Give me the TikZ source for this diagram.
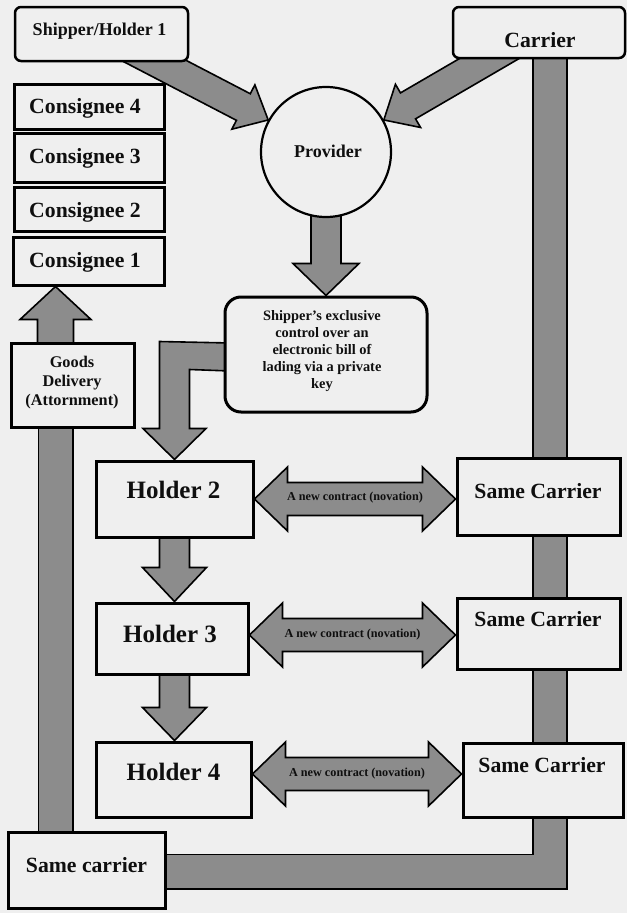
\documentclass[tikz,border=0pt]{standalone}
\usepackage{fontspec}
\setmainfont{Liberation Serif}
\usetikzlibrary{calc}
\pgfdeclarelayer{bglayer}
\pgfdeclarelayer{arrowlayer}
\pgfsetlayers{bglayer,arrowlayer,main}
\definecolor{bgc}{RGB}{239,239,239}
\definecolor{arrgray}{RGB}{140,140,140}
\definecolor{txt}{RGB}{15,15,15}
% fat single arrow: start, tip, half shaft, half head, head length
\newcommand{\fatarrow}[5]{%
  \coordinate (fah) at ($(#2)!#5!(#1)$);
  \filldraw[arr] ($(#1)!#3!90:(#2)$) -- ($(fah)!#3!90:(#2)$) -- ($(fah)!#4!90:(#2)$) -- (#2)
    -- ($(fah)!#4!-90:(#2)$) -- ($(fah)!#3!-90:(#2)$) -- ($(#1)!#3!-90:(#2)$) -- cycle;}
% fat double arrow: tip A, tip B, half shaft, half head, head length
\newcommand{\fatdarrow}[5]{%
  \coordinate (fda) at ($(#1)!#5!(#2)$);
  \coordinate (fdb) at ($(#2)!#5!(#1)$);
  \filldraw[arr] (#1) -- ($(fda)!#4!90:(#2)$) -- ($(fda)!#3!90:(#2)$) -- ($(fdb)!#3!-90:(#1)$)
    -- ($(fdb)!#4!-90:(#1)$) -- (#2) -- ($(fdb)!#4!90:(#1)$) -- ($(fdb)!#3!90:(#1)$)
    -- ($(fda)!#3!-90:(#2)$) -- ($(fda)!#4!-90:(#2)$) -- cycle;}
\begin{document}
\begin{tikzpicture}[x=1pt,y=-1pt,
  box/.style={draw=black, fill=bgc, line width=3pt, inner sep=0pt},
  rbox/.style={box, rounded corners=6pt, line width=2.5pt},
  arr/.style={draw=black, fill=arrgray, line width=1.6pt, line join=miter},
  barout/.style={draw=black, line width=36pt},
  barin/.style={draw=arrgray, line width=32.4pt},
  lbl/.style={text=txt, inner sep=0pt, anchor=base},
  fbig/.style={font=\fontsize{25}{28}\selectfont\bfseries},
  fmed/.style={font=\fontsize{21.7}{24}\selectfont\bfseries},
  fsm/.style={font=\fontsize{18}{21}\selectfont\bfseries},
  ftiny/.style={font=\fontsize{12.2}{14}\selectfont\bfseries},
]
\useasboundingbox (0,0) rectangle (627,913);
\begin{pgfonlayer}{bglayer}
\fill[bgc] (0,0) rectangle (627,913);
\end{pgfonlayer}

% boxes
\node[rbox, minimum width=173, minimum height=54] (ship) at (101.5,34) {};
\node[rbox, minimum width=172, minimum height=51] (car) at (539,32.5) {};
\node[draw=black, fill=bgc, line width=2.2pt, circle, minimum size=130, inner sep=0pt] (prov) at (326,152) {};
\node[box, minimum width=150, minimum height=45] (c4) at (89,106.5) {};
\node[box, minimum width=150, minimum height=49] (c3) at (89,157.5) {};
\node[box, minimum width=150, minimum height=44] (c2) at (89,209) {};
\node[box, minimum width=151, minimum height=48] (c1) at (88.5,261) {};
\node[box, rounded corners=16pt, minimum width=202, minimum height=115] (excl) at (326,354.5) {};
\node[box, minimum width=123, minimum height=84] (goods) at (72.5,385) {};
\node[box, minimum width=157, minimum height=76] (h2) at (174.5,499) {};
\node[box, minimum width=163, minimum height=77] (sc1) at (538.5,496.5) {};
\node[box, minimum width=152, minimum height=71] (h3) at (172,638.5) {};
\node[box, minimum width=163, minimum height=71] (sc2) at (538.5,633.5) {};
\node[box, minimum width=155, minimum height=75] (h4) at (173.5,779.5) {};
\node[box, minimum width=160, minimum height=74] (sc3) at (543,780) {};
\node[box, minimum width=157, minimum height=76] (scb) at (86.5,870) {};

% texts
\node[lbl, fsm] at (99.5,35) {Shipper/Holder 1};
\node[lbl, fmed] at (540,47) {Carrier};
\node[lbl, fsm] at (328,157) {Provider};
\node[lbl, fmed] at (85,113) {Consignee 4};
\node[lbl, fmed] at (85,163) {Consignee 3};
\node[lbl, fmed] at (85,217) {Consignee 2};
\node[lbl, fmed] at (85,267) {Consignee 1};
\node[text=txt, inner sep=0pt, align=center, font=\fontsize{14.4}{17}\selectfont\bfseries] at (322,351.5)
  {Shipper’s exclusive\\control over an\\electronic bill of\\lading via a private\\key};
\node[text=txt, inner sep=0pt, align=center, font=\fontsize{16.3}{19}\selectfont\bfseries] at (72,382.5)
  {Goods\\Delivery\\(Attornment)};
\node[lbl, fbig] at (173.5,498) {Holder 2};
\node[lbl, fbig] at (170,642) {Holder 3};
\node[lbl, fbig] at (173.5,780) {Holder 4};
\node[lbl, fmed] at (538,498) {Same Carrier};
\node[lbl, fmed] at (538,626) {Same Carrier};
\node[lbl, fmed] at (542,772) {Same Carrier};
\node[lbl, fmed] at (86.5,872) {Same carrier};

% helper coordinates
\coordinate (a1s) at (126,46);
\coordinate (a2s) at (516,43);
\coordinate (g1) at (55.5,385);
\coordinate (rb1) at (550,40);
\coordinate (n2) at (0,635);
\coordinate (n3) at (0,774);

\begin{pgfonlayer}{arrowlayer}
% bars
\draw[barout] (g1) -- (g1 |- scb.center);
\draw[barin] (g1) -- (g1 |- scb.center);
\draw[barout] (rb1) -- (rb1 |- 0,871.5) -- (scb.center |- 0,871.5);
\draw[barin] (rb1) -- (rb1 |- 0,871.5) -- (scb.center |- 0,871.5);
% arrows
\fatarrow{a1s}{prov.151}{15pt}{25pt}{28pt}
\fatarrow{a2s}{prov.29}{15pt}{25pt}{28pt}
\fatarrow{prov.center}{excl.north}{15pt}{33pt}{32pt}
\filldraw[arr] ($(excl.west)+(7,-11.5)$) -- ($(h2.north)+(-15,-118)$) -- ($(h2.north)+(-15,-31)$)
  -- ($(h2.north)+(-31.5,-31)$) -- (h2.north) -- ($(h2.north)+(31.5,-31)$) -- ($(h2.north)+(15,-31)$)
  -- ($(h2.north)+(15,-90)$) -- ($(excl.west)+(7,16.5)$) -- cycle;
\fatarrow{h2.center}{h2.center |- h3.north}{15pt}{32pt}{34pt}
\fatarrow{h2.center |- h3.center}{h2.center |- h4.north}{15pt}{32pt}{33pt}
\fatarrow{g1}{g1 |- c1.south}{18pt}{35.5pt}{33pt}
\fatdarrow{h2.east}{sc1.west |- h2.east}{16.5pt}{32pt}{33pt}
\fatdarrow{h3.east |- n2}{sc2.west |- n2}{16.5pt}{32pt}{33pt}
\fatdarrow{h4.east |- n3}{sc3.west |- n3}{16.5pt}{32pt}{33pt}
\end{pgfonlayer}

\node[lbl, ftiny] at ($(h2.east)!0.5!(sc1.west |- h2.east)+(0,1.5)$) {A new contract (novation)};
\node[lbl, ftiny] at ($(h3.east |- n2)!0.5!(sc2.west |- n2)+(0,2)$) {A new contract (novation)};
\node[lbl, ftiny] at ($(h4.east |- n3)!0.5!(sc3.west |- n3)+(0,2)$) {A new contract (novation)};
\end{tikzpicture}
\end{document}
